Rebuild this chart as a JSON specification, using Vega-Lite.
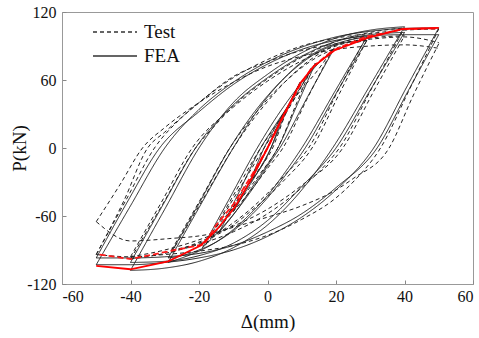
{
"$schema":"https://vega.github.io/schema/vega-lite/v6.json",
"autosize":{"type":"none"},
"padding":{"left":62,"top":12,"right":6,"bottom":54},
"width":411,"height":272,
"background":"white",
"config":{"view":{"stroke":"#999","strokeWidth":1},
"axis":{"labelFont":"Liberation Serif","titleFont":"Liberation Serif","labelFontSize":16,"titleFontSize":19,"titleFontWeight":"normal","labelColor":"#111","titleColor":"#111","domainColor":"#999","tickColor":"#888","grid":false},
"legend":{"labelFont":"Liberation Serif","labelFontSize":19,"labelColor":"#111"}},
"datasets":{
"redF":[{"x":-50,"y":-104},{"x":-40,"y":-107},{"x":-29,"y":-100},{"x":-19.5,"y":-86},{"x":-14.5,"y":-71},{"x":-9.5,"y":-52},{"x":-5,"y":-29},{"x":0,"y":0},{"x":4.5,"y":28},{"x":9.5,"y":57},{"x":13.5,"y":72},{"x":19.5,"y":86},{"x":29,"y":97},{"x":39.5,"y":105},{"x":50,"y":106}],
"redT":[{"x":-49,"y":-94},{"x":-40,"y":-98},{"x":-27,"y":-90},{"x":-18.5,"y":-85},{"x":-15,"y":-68},{"x":-10,"y":-50},{"x":-5,"y":-26},{"x":0,"y":0},{"x":4,"y":24},{"x":9,"y":53},{"x":13,"y":71},{"x":19,"y":86},{"x":28.5,"y":98},{"x":40,"y":105},{"x":50,"y":105.5}],
"loops":[
{"b":"F50au","t":"FEA","x":-50,"y":-103},{"b":"F50au","t":"FEA","x":-40,"y":-51},{"b":"F50au","t":"FEA","x":-30,"y":0},{"b":"F50au","t":"FEA","x":-20,"y":34},{"b":"F50au","t":"FEA","x":-10,"y":58},{"b":"F50au","t":"FEA","x":0,"y":76},{"b":"F50au","t":"FEA","x":10,"y":89},{"b":"F50au","t":"FEA","x":20,"y":98},{"b":"F50au","t":"FEA","x":30,"y":103},{"b":"F50au","t":"FEA","x":40,"y":105.5},{"b":"F50au","t":"FEA","x":50,"y":106},
{"b":"F50al","t":"FEA","x":50,"y":106},{"b":"F50al","t":"FEA","x":40.5,"y":53},{"b":"F50al","t":"FEA","x":31,"y":0},{"b":"F50al","t":"FEA","x":20,"y":-37},{"b":"F50al","t":"FEA","x":10,"y":-61},{"b":"F50al","t":"FEA","x":0,"y":-78},{"b":"F50al","t":"FEA","x":-10,"y":-90},{"b":"F50al","t":"FEA","x":-20,"y":-97},{"b":"F50al","t":"FEA","x":-30,"y":-101},{"b":"F50al","t":"FEA","x":-40,"y":-103},{"b":"F50al","t":"FEA","x":-50,"y":-103},
{"b":"F50bu","t":"FEA","x":-50,"y":-97},{"b":"F50bu","t":"FEA","x":-41,"y":-48},{"b":"F50bu","t":"FEA","x":-31.5,"y":0},{"b":"F50bu","t":"FEA","x":-20,"y":32},{"b":"F50bu","t":"FEA","x":-10,"y":56},{"b":"F50bu","t":"FEA","x":0,"y":74},{"b":"F50bu","t":"FEA","x":10,"y":87},{"b":"F50bu","t":"FEA","x":20,"y":95},{"b":"F50bu","t":"FEA","x":30,"y":99},{"b":"F50bu","t":"FEA","x":40,"y":100},{"b":"F50bu","t":"FEA","x":50,"y":100},
{"b":"F50bl","t":"FEA","x":50,"y":100},{"b":"F50bl","t":"FEA","x":41,"y":50},{"b":"F50bl","t":"FEA","x":32,"y":0},{"b":"F50bl","t":"FEA","x":20,"y":-35},{"b":"F50bl","t":"FEA","x":10,"y":-58},{"b":"F50bl","t":"FEA","x":0,"y":-74},{"b":"F50bl","t":"FEA","x":-10,"y":-86},{"b":"F50bl","t":"FEA","x":-20,"y":-93},{"b":"F50bl","t":"FEA","x":-30,"y":-96},{"b":"F50bl","t":"FEA","x":-40,"y":-97},{"b":"F50bl","t":"FEA","x":-50,"y":-97},
{"b":"F40au","t":"FEA","x":-40,"y":-108},{"b":"F40au","t":"FEA","x":-30,"y":-54},{"b":"F40au","t":"FEA","x":-20,"y":0},{"b":"F40au","t":"FEA","x":-10,"y":40},{"b":"F40au","t":"FEA","x":0,"y":65},{"b":"F40au","t":"FEA","x":10,"y":84},{"b":"F40au","t":"FEA","x":20,"y":97},{"b":"F40au","t":"FEA","x":30,"y":104},{"b":"F40au","t":"FEA","x":40,"y":107},
{"b":"F40al","t":"FEA","x":40,"y":107},{"b":"F40al","t":"FEA","x":29.5,"y":53},{"b":"F40al","t":"FEA","x":19,"y":0},{"b":"F40al","t":"FEA","x":10,"y":-37},{"b":"F40al","t":"FEA","x":0,"y":-68},{"b":"F40al","t":"FEA","x":-10,"y":-88},{"b":"F40al","t":"FEA","x":-20,"y":-100},{"b":"F40al","t":"FEA","x":-30,"y":-106},{"b":"F40al","t":"FEA","x":-40,"y":-108},
{"b":"F40bu","t":"FEA","x":-40,"y":-101},{"b":"F40bu","t":"FEA","x":-30.5,"y":-50},{"b":"F40bu","t":"FEA","x":-21,"y":0},{"b":"F40bu","t":"FEA","x":-10,"y":38},{"b":"F40bu","t":"FEA","x":0,"y":62},{"b":"F40bu","t":"FEA","x":10,"y":81},{"b":"F40bu","t":"FEA","x":20,"y":94},{"b":"F40bu","t":"FEA","x":30,"y":100},{"b":"F40bu","t":"FEA","x":40,"y":102},
{"b":"F40bl","t":"FEA","x":40,"y":102},{"b":"F40bl","t":"FEA","x":30,"y":51},{"b":"F40bl","t":"FEA","x":20,"y":0},{"b":"F40bl","t":"FEA","x":10,"y":-34},{"b":"F40bl","t":"FEA","x":0,"y":-64},{"b":"F40bl","t":"FEA","x":-10,"y":-84},{"b":"F40bl","t":"FEA","x":-20,"y":-95},{"b":"F40bl","t":"FEA","x":-30,"y":-100},{"b":"F40bl","t":"FEA","x":-40,"y":-101},
{"b":"F30au","t":"FEA","x":-29,"y":-101},{"b":"F30au","t":"FEA","x":-19.5,"y":-50},{"b":"F30au","t":"FEA","x":-10,"y":0},{"b":"F30au","t":"FEA","x":-5,"y":24},{"b":"F30au","t":"FEA","x":0,"y":45},{"b":"F30au","t":"FEA","x":5,"y":62},{"b":"F30au","t":"FEA","x":10,"y":76},{"b":"F30au","t":"FEA","x":15,"y":86},{"b":"F30au","t":"FEA","x":20,"y":92},{"b":"F30au","t":"FEA","x":25,"y":96},{"b":"F30au","t":"FEA","x":29,"y":98},
{"b":"F30al","t":"FEA","x":29,"y":98},{"b":"F30al","t":"FEA","x":19.5,"y":49},{"b":"F30al","t":"FEA","x":10,"y":0},{"b":"F30al","t":"FEA","x":5,"y":-22},{"b":"F30al","t":"FEA","x":0,"y":-42},{"b":"F30al","t":"FEA","x":-5,"y":-58},{"b":"F30al","t":"FEA","x":-10,"y":-72},{"b":"F30al","t":"FEA","x":-15,"y":-83},{"b":"F30al","t":"FEA","x":-20,"y":-91},{"b":"F30al","t":"FEA","x":-25,"y":-97},{"b":"F30al","t":"FEA","x":-29,"y":-101},
{"b":"F30bu","t":"FEA","x":-29,"y":-97},{"b":"F30bu","t":"FEA","x":-20,"y":-49},{"b":"F30bu","t":"FEA","x":-11,"y":0},{"b":"F30bu","t":"FEA","x":-5,"y":27},{"b":"F30bu","t":"FEA","x":0,"y":46},{"b":"F30bu","t":"FEA","x":5,"y":62},{"b":"F30bu","t":"FEA","x":10,"y":75},{"b":"F30bu","t":"FEA","x":15,"y":85},{"b":"F30bu","t":"FEA","x":20,"y":91},{"b":"F30bu","t":"FEA","x":25,"y":94},{"b":"F30bu","t":"FEA","x":29,"y":95},
{"b":"F30bl","t":"FEA","x":29,"y":95},{"b":"F30bl","t":"FEA","x":20,"y":48},{"b":"F30bl","t":"FEA","x":11,"y":0},{"b":"F30bl","t":"FEA","x":5,"y":-25},{"b":"F30bl","t":"FEA","x":0,"y":-44},{"b":"F30bl","t":"FEA","x":-5,"y":-60},{"b":"F30bl","t":"FEA","x":-10,"y":-73},{"b":"F30bl","t":"FEA","x":-15,"y":-83},{"b":"F30bl","t":"FEA","x":-20,"y":-90},{"b":"F30bl","t":"FEA","x":-25,"y":-95},{"b":"F30bl","t":"FEA","x":-29,"y":-97},
{"b":"F20au","t":"FEA","x":-19,"y":-88},{"b":"F20au","t":"FEA","x":-11,"y":-44},{"b":"F20au","t":"FEA","x":-3,"y":0},{"b":"F20au","t":"FEA","x":0,"y":15},{"b":"F20au","t":"FEA","x":3,"y":29},{"b":"F20au","t":"FEA","x":6,"y":42},{"b":"F20au","t":"FEA","x":9,"y":54},{"b":"F20au","t":"FEA","x":12,"y":65},{"b":"F20au","t":"FEA","x":15,"y":75},{"b":"F20au","t":"FEA","x":19.5,"y":88},
{"b":"F20al","t":"FEA","x":19.5,"y":88},{"b":"F20al","t":"FEA","x":11.5,"y":44},{"b":"F20al","t":"FEA","x":3.6,"y":0},{"b":"F20al","t":"FEA","x":0,"y":-16},{"b":"F20al","t":"FEA","x":-3,"y":-30},{"b":"F20al","t":"FEA","x":-6,"y":-43},{"b":"F20al","t":"FEA","x":-9,"y":-55},{"b":"F20al","t":"FEA","x":-12,"y":-66},{"b":"F20al","t":"FEA","x":-15,"y":-76},{"b":"F20al","t":"FEA","x":-19,"y":-88},
{"b":"F15u","t":"FEA","x":-14,"y":-74},{"b":"F15u","t":"FEA","x":-8,"y":-37},{"b":"F15u","t":"FEA","x":-2,"y":0},{"b":"F15u","t":"FEA","x":2,"y":19},{"b":"F15u","t":"FEA","x":6,"y":37},{"b":"F15u","t":"FEA","x":10,"y":55},{"b":"F15u","t":"FEA","x":14,"y":75},
{"b":"F15l","t":"FEA","x":14,"y":75},{"b":"F15l","t":"FEA","x":8.5,"y":37},{"b":"F15l","t":"FEA","x":3,"y":0},{"b":"F15l","t":"FEA","x":-1,"y":-19},{"b":"F15l","t":"FEA","x":-5,"y":-37},{"b":"F15l","t":"FEA","x":-9,"y":-55},{"b":"F15l","t":"FEA","x":-14,"y":-74},
{"b":"F10u","t":"FEA","x":-10,"y":-56},{"b":"F10u","t":"FEA","x":-5,"y":-28},{"b":"F10u","t":"FEA","x":-1,"y":0},{"b":"F10u","t":"FEA","x":3,"y":22},{"b":"F10u","t":"FEA","x":6.5,"y":40},{"b":"F10u","t":"FEA","x":9.5,"y":58},
{"b":"F10l","t":"FEA","x":9.5,"y":58},{"b":"F10l","t":"FEA","x":5,"y":29},{"b":"F10l","t":"FEA","x":1,"y":0},{"b":"F10l","t":"FEA","x":-3,"y":-22},{"b":"F10l","t":"FEA","x":-6.5,"y":-39},{"b":"F10l","t":"FEA","x":-10,"y":-56},
{"b":"F5u","t":"FEA","x":-5,"y":-30},{"b":"F5u","t":"FEA","x":0,"y":0},{"b":"F5u","t":"FEA","x":4.5,"y":30},
{"b":"F5l","t":"FEA","x":4.5,"y":30},{"b":"F5l","t":"FEA","x":1,"y":0},{"b":"F5l","t":"FEA","x":-5,"y":-30},
{"b":"T50au","t":"Test","x":-50,"y":-94},{"b":"T50au","t":"Test","x":-41.5,"y":-47},{"b":"T50au","t":"Test","x":-33,"y":0},{"b":"T50au","t":"Test","x":-25,"y":27},{"b":"T50au","t":"Test","x":-20,"y":40},{"b":"T50au","t":"Test","x":-10,"y":62},{"b":"T50au","t":"Test","x":0,"y":78},{"b":"T50au","t":"Test","x":10,"y":90},{"b":"T50au","t":"Test","x":20,"y":97},{"b":"T50au","t":"Test","x":30,"y":101},{"b":"T50au","t":"Test","x":40,"y":104},{"b":"T50au","t":"Test","x":50,"y":105},
{"b":"T50al","t":"Test","x":50,"y":105},{"b":"T50al","t":"Test","x":41.5,"y":52},{"b":"T50al","t":"Test","x":33,"y":0},{"b":"T50al","t":"Test","x":25,"y":-30},{"b":"T50al","t":"Test","x":20,"y":-44},{"b":"T50al","t":"Test","x":10,"y":-63},{"b":"T50al","t":"Test","x":0,"y":-77},{"b":"T50al","t":"Test","x":-10,"y":-86},{"b":"T50al","t":"Test","x":-20,"y":-91},{"b":"T50al","t":"Test","x":-30,"y":-94},{"b":"T50al","t":"Test","x":-40,"y":-96},{"b":"T50al","t":"Test","x":-50,"y":-94},
{"b":"T50bu","t":"Test","x":-50,"y":-94},{"b":"T50bu","t":"Test","x":-42,"y":-47},{"b":"T50bu","t":"Test","x":-35,"y":0},{"b":"T50bu","t":"Test","x":-30,"y":14},{"b":"T50bu","t":"Test","x":-20,"y":40},{"b":"T50bu","t":"Test","x":-10,"y":63},{"b":"T50bu","t":"Test","x":0,"y":76},{"b":"T50bu","t":"Test","x":10,"y":86},{"b":"T50bu","t":"Test","x":20,"y":92},{"b":"T50bu","t":"Test","x":30,"y":96},{"b":"T50bu","t":"Test","x":40,"y":98},{"b":"T50bu","t":"Test","x":50,"y":93},
{"b":"T50bl","t":"Test","x":50,"y":92},{"b":"T50bl","t":"Test","x":42.5,"y":46},{"b":"T50bl","t":"Test","x":35.5,"y":0},{"b":"T50bl","t":"Test","x":25,"y":-27},{"b":"T50bl","t":"Test","x":20,"y":-37},{"b":"T50bl","t":"Test","x":10,"y":-51},{"b":"T50bl","t":"Test","x":0,"y":-61},{"b":"T50bl","t":"Test","x":-10,"y":-70},{"b":"T50bl","t":"Test","x":-17,"y":-76},{"b":"T50bl","t":"Test","x":-29,"y":-80},{"b":"T50bl","t":"Test","x":-40,"y":-82},{"b":"T50bl","t":"Test","x":-50,"y":-65},
{"b":"T50cu","t":"Test","x":-50,"y":-65},{"b":"T50cu","t":"Test","x":-43,"y":-32},{"b":"T50cu","t":"Test","x":-36.5,"y":0},{"b":"T50cu","t":"Test","x":-30,"y":18},{"b":"T50cu","t":"Test","x":-22,"y":36},{"b":"T50cu","t":"Test","x":-10,"y":58},{"b":"T50cu","t":"Test","x":0,"y":72},{"b":"T50cu","t":"Test","x":10,"y":81},{"b":"T50cu","t":"Test","x":20,"y":87},{"b":"T50cu","t":"Test","x":30,"y":90},{"b":"T50cu","t":"Test","x":40,"y":91},{"b":"T50cu","t":"Test","x":50,"y":88},
{"b":"T40au","t":"Test","x":-40,"y":-98},{"b":"T40au","t":"Test","x":-30.5,"y":-49},{"b":"T40au","t":"Test","x":-21,"y":0},{"b":"T40au","t":"Test","x":-15,"y":21},{"b":"T40au","t":"Test","x":-10,"y":37},{"b":"T40au","t":"Test","x":0,"y":61},{"b":"T40au","t":"Test","x":10,"y":80},{"b":"T40au","t":"Test","x":20,"y":94},{"b":"T40au","t":"Test","x":30,"y":102},{"b":"T40au","t":"Test","x":40,"y":106},
{"b":"T40al","t":"Test","x":40,"y":106},{"b":"T40al","t":"Test","x":30.5,"y":53},{"b":"T40al","t":"Test","x":21,"y":0},{"b":"T40al","t":"Test","x":15,"y":-21},{"b":"T40al","t":"Test","x":10,"y":-35},{"b":"T40al","t":"Test","x":0,"y":-58},{"b":"T40al","t":"Test","x":-10,"y":-74},{"b":"T40al","t":"Test","x":-20,"y":-85},{"b":"T40al","t":"Test","x":-30,"y":-93},{"b":"T40al","t":"Test","x":-40,"y":-98},
{"b":"T40bu","t":"Test","x":-40,"y":-96},{"b":"T40bu","t":"Test","x":-31,"y":-48},{"b":"T40bu","t":"Test","x":-22,"y":0},{"b":"T40bu","t":"Test","x":-10,"y":36},{"b":"T40bu","t":"Test","x":0,"y":59},{"b":"T40bu","t":"Test","x":10,"y":77},{"b":"T40bu","t":"Test","x":20,"y":90},{"b":"T40bu","t":"Test","x":30,"y":97},{"b":"T40bu","t":"Test","x":40,"y":99},
{"b":"T40bl","t":"Test","x":40,"y":99},{"b":"T40bl","t":"Test","x":31,"y":50},{"b":"T40bl","t":"Test","x":22,"y":0},{"b":"T40bl","t":"Test","x":10,"y":-33},{"b":"T40bl","t":"Test","x":0,"y":-54},{"b":"T40bl","t":"Test","x":-10,"y":-69},{"b":"T40bl","t":"Test","x":-20,"y":-81},{"b":"T40bl","t":"Test","x":-30,"y":-90},{"b":"T40bl","t":"Test","x":-40,"y":-96},
{"b":"T30au","t":"Test","x":-28,"y":-92},{"b":"T30au","t":"Test","x":-19,"y":-46},{"b":"T30au","t":"Test","x":-10,"y":0},{"b":"T30au","t":"Test","x":-5,"y":22},{"b":"T30au","t":"Test","x":0,"y":41},{"b":"T30au","t":"Test","x":5,"y":58},{"b":"T30au","t":"Test","x":10,"y":72},{"b":"T30au","t":"Test","x":15,"y":83},{"b":"T30au","t":"Test","x":20,"y":91},{"b":"T30au","t":"Test","x":29,"y":99},
{"b":"T30al","t":"Test","x":29,"y":99},{"b":"T30al","t":"Test","x":20.5,"y":50},{"b":"T30al","t":"Test","x":12,"y":0},{"b":"T30al","t":"Test","x":5,"y":-24},{"b":"T30al","t":"Test","x":0,"y":-40},{"b":"T30al","t":"Test","x":-5,"y":-54},{"b":"T30al","t":"Test","x":-10,"y":-66},{"b":"T30al","t":"Test","x":-15,"y":-76},{"b":"T30al","t":"Test","x":-20,"y":-83},{"b":"T30al","t":"Test","x":-28,"y":-92},
{"b":"T30bu","t":"Test","x":-28,"y":-90},{"b":"T30bu","t":"Test","x":-19.5,"y":-45},{"b":"T30bu","t":"Test","x":-11,"y":0},{"b":"T30bu","t":"Test","x":-5,"y":25},{"b":"T30bu","t":"Test","x":0,"y":43},{"b":"T30bu","t":"Test","x":5,"y":58},{"b":"T30bu","t":"Test","x":10,"y":71},{"b":"T30bu","t":"Test","x":15,"y":81},{"b":"T30bu","t":"Test","x":20,"y":88},{"b":"T30bu","t":"Test","x":29,"y":95},
{"b":"T30bl","t":"Test","x":29,"y":95},{"b":"T30bl","t":"Test","x":21,"y":48},{"b":"T30bl","t":"Test","x":13,"y":0},{"b":"T30bl","t":"Test","x":5,"y":-28},{"b":"T30bl","t":"Test","x":0,"y":-43},{"b":"T30bl","t":"Test","x":-5,"y":-56},{"b":"T30bl","t":"Test","x":-10,"y":-68},{"b":"T30bl","t":"Test","x":-15,"y":-77},{"b":"T30bl","t":"Test","x":-20,"y":-84},{"b":"T30bl","t":"Test","x":-28,"y":-90},
{"b":"T20au","t":"Test","x":-18,"y":-85},{"b":"T20au","t":"Test","x":-10,"y":-42},{"b":"T20au","t":"Test","x":-2,"y":0},{"b":"T20au","t":"Test","x":2,"y":18},{"b":"T20au","t":"Test","x":6,"y":36},{"b":"T20au","t":"Test","x":10,"y":52},{"b":"T20au","t":"Test","x":14,"y":66},{"b":"T20au","t":"Test","x":19,"y":87},
{"b":"T20al","t":"Test","x":19,"y":87},{"b":"T20al","t":"Test","x":11.5,"y":43},{"b":"T20al","t":"Test","x":4.5,"y":0},{"b":"T20al","t":"Test","x":0,"y":-18},{"b":"T20al","t":"Test","x":-5,"y":-38},{"b":"T20al","t":"Test","x":-10,"y":-56},{"b":"T20al","t":"Test","x":-14,"y":-70},{"b":"T20al","t":"Test","x":-18,"y":-85},
{"b":"T15u","t":"Test","x":-15,"y":-70},{"b":"T15u","t":"Test","x":-8,"y":-35},{"b":"T15u","t":"Test","x":-1,"y":0},{"b":"T15u","t":"Test","x":4,"y":24},{"b":"T15u","t":"Test","x":8,"y":44},{"b":"T15u","t":"Test","x":13,"y":72},
{"b":"T15l","t":"Test","x":13,"y":72},{"b":"T15l","t":"Test","x":8,"y":36},{"b":"T15l","t":"Test","x":3,"y":0},{"b":"T15l","t":"Test","x":-2,"y":-22},{"b":"T15l","t":"Test","x":-7,"y":-42},{"b":"T15l","t":"Test","x":-11,"y":-56},{"b":"T15l","t":"Test","x":-15,"y":-70},
{"b":"T10u","t":"Test","x":-10,"y":-52},{"b":"T10u","t":"Test","x":-5,"y":-26},{"b":"T10u","t":"Test","x":0,"y":0},{"b":"T10u","t":"Test","x":4,"y":24},{"b":"T10u","t":"Test","x":9,"y":55},
{"b":"T10l","t":"Test","x":9,"y":55},{"b":"T10l","t":"Test","x":5,"y":28},{"b":"T10l","t":"Test","x":1.5,"y":0},{"b":"T10l","t":"Test","x":-3,"y":-21},{"b":"T10l","t":"Test","x":-6.5,"y":-37},{"b":"T10l","t":"Test","x":-10,"y":-52}
]},
"layer":[
{"mark":{"type":"rule","color":"#999","strokeDash":[2,2],"strokeWidth":1},"encoding":{"x":{"datum":0,"type":"quantitative"}}},
{"mark":{"type":"rule","color":"#999","strokeDash":[2,2],"strokeWidth":1},"encoding":{"y":{"datum":0,"type":"quantitative"}}},
{"data":{"name":"loops"},
"mark":{"type":"line","interpolate":"monotone","strokeWidth":1,"color":"#222"},
"encoding":{
"x":{"field":"x","type":"quantitative","scale":{"domain":[-60,60],"nice":false},
"axis":{"values":[-60,-50,-40,-30,-20,-10,0,10,20,30,40,50,60],"labelExpr":"datum.value % 20 === 0 ? '' + datum.value : ''","tickSize":-4,"labelPadding":8,"title":"Δ(mm)","titlePadding":8}},
"y":{"field":"y","type":"quantitative","scale":{"domain":[-120,120],"nice":false},
"axis":{"values":[-120,-90,-60,-30,0,30,60,90,120],"labelExpr":"datum.value % 60 === 0 ? '' + datum.value : ''","tickSize":-4,"labelPadding":10,"title":"P(kN)","titlePadding":-3}},
"detail":{"field":"b"},
"strokeDash":{"field":"t","type":"nominal","scale":{"domain":["Test","FEA"],"range":[[4,3],[1,0]]},
"legend":{"title":null,"orient":"none","legendX":30,"legendY":8,"symbolType":"M-1,0H3","symbolSize":484,"symbolStrokeWidth":1.3,"symbolStrokeColor":"#333","labelOffset":28,"rowPadding":2,"padding":0}}
}},
{"data":{"name":"redT"},"mark":{"type":"line","color":"#ff1a1a","strokeWidth":1.8,"strokeDash":[6,3]},"encoding":{"x":{"field":"x","type":"quantitative"},"y":{"field":"y","type":"quantitative"}}},
{"data":{"name":"redF"},"mark":{"type":"line","color":"#ff0000","strokeWidth":1.8},"encoding":{"x":{"field":"x","type":"quantitative"},"y":{"field":"y","type":"quantitative"}}}
]
}
